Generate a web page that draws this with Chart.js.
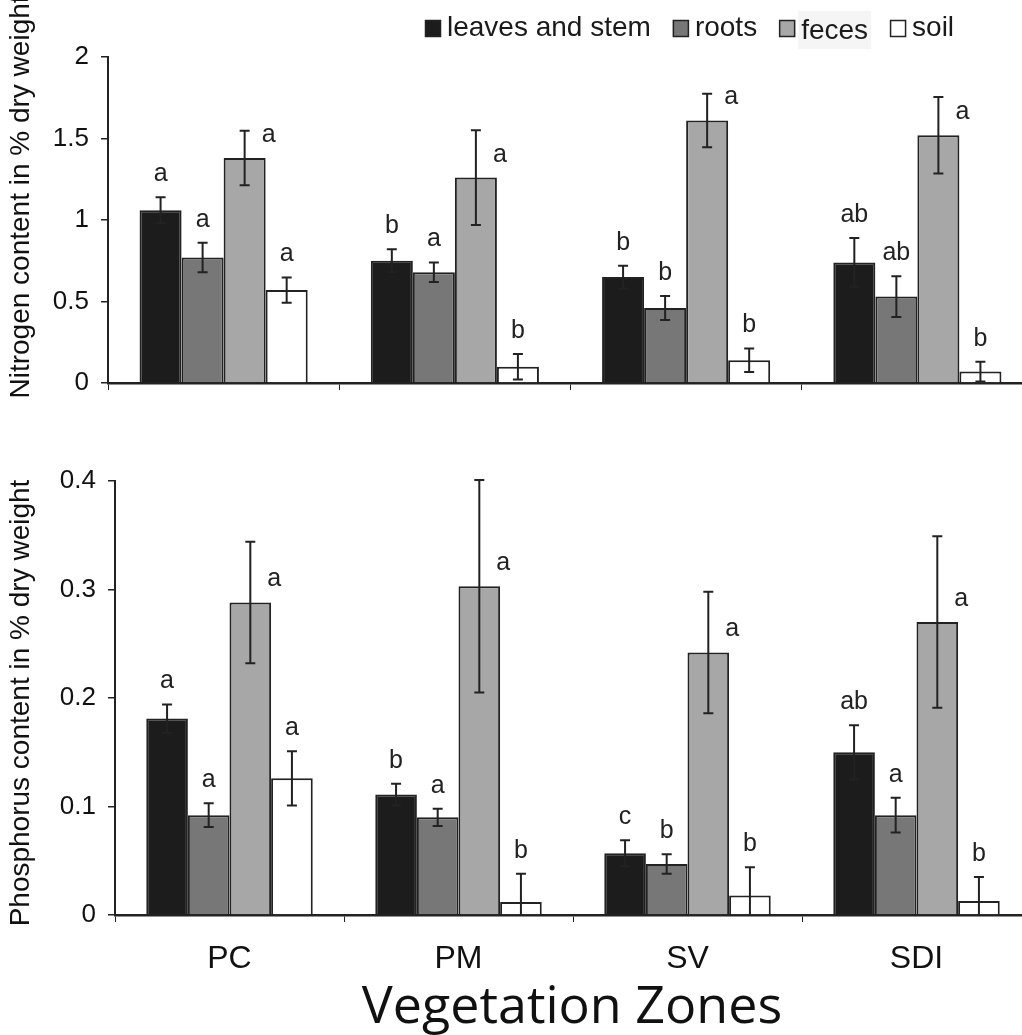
<!DOCTYPE html>
<html>
<head>
<meta charset="utf-8">
<title>Nitrogen and phosphorus content by vegetation zone</title>
<script src="https://cdn.jsdelivr.net/npm/chart.js@4.4.1/dist/chart.umd.min.js"></script>
<style>
    html, body { margin: 0; padding: 0; background: #fff; overflow: hidden; }
    #wrap { position: relative; width: 1022px; height: 1035px; overflow: hidden; }
    canvas { position: absolute; left: 0; }
    #nChart { top: 0; }
    #pChart { top: 440px; }
</style>
</head>
<body>
<div id="wrap">
    <canvas id="nChart" width="1040" height="420"></canvas>
    <canvas id="pChart" width="1040" height="595"></canvas>
</div>
<script>
// Categories and series
const zones = ['PC', 'PM', 'SV', 'SDI'];
const seriesNames = ['leaves and stem', 'roots', 'feces', 'soil'];
const seriesColors = ['#1c1c1c', '#777777', '#a7a7a7', '#ffffff'];

// Nitrogen (% dry weight): means, error bars, letters
const nLeaves = [1.06, 0.75, 0.65, 0.74];
const nRoots  = [0.77, 0.68, 0.46, 0.53];
const nFeces  = [1.38, 1.26, 1.61, 1.52];
const nSoil   = [0.57, 0.10, 0.14, 0.07];
const nLeavesErr = [0.08, 0.07, 0.07, 0.15];
const nRootsErr  = [0.09, 0.06, 0.074, 0.125];
const nFecesErr  = [0.167, 0.29, 0.164, 0.235];
const nSoilErr   = [0.077, 0.078, 0.072, 0.061];
const nLeavesSig = ['a', 'b', 'b', 'ab'];
const nRootsSig  = ['a', 'a', 'b', 'ab'];
const nFecesSig  = ['a', 'a', 'a', 'a'];
const nSoilSig   = ['a', 'b', 'b', 'b'];
const nTicks = [0, 0.5, 1, 1.5, 2];

// Phosphorus (% dry weight): means, error bars, letters
const pLeaves = [0.181, 0.111, 0.057, 0.150];
const pRoots  = [0.092, 0.090, 0.047, 0.092];
const pFeces  = [0.288, 0.303, 0.242, 0.270];
const pSoil   = [0.126, 0.012, 0.018, 0.013];
const pLeavesErr = [0.013, 0.010, 0.012, 0.025];
const pRootsErr  = [0.011, 0.008, 0.009, 0.016];
const pFecesErr  = [0.056, 0.098, 0.056, 0.079];
const pSoilErr   = [0.025, 0.026, 0.026, 0.022];
const pLeavesSig = ['a', 'b', 'c', 'ab'];
const pRootsSig  = ['a', 'a', 'b', 'a'];
const pFecesSig  = ['a', 'a', 'a', 'a'];
const pSoilSig   = ['a', 'b', 'b', 'b'];
const pTicks = [0, 0.1, 0.2, 0.3, 0.4];

const INK = '#222222';

// Error bars plus significance letters over every bar
const errorBarPlugin = {
    id: 'errorBars',
    afterDatasetsDraw(chart) {
        const ctx = chart.ctx;
        const yScale = chart.scales.y;
        ctx.save();
        ctx.strokeStyle = INK;
        ctx.lineWidth = 2;
        ctx.fillStyle = INK;
        ctx.font = '25px "Liberation Sans", Arial, sans-serif';
        ctx.textAlign = 'center';
        ctx.textBaseline = 'middle';
        chart.data.datasets.forEach((ds, i) => {
            chart.getDatasetMeta(i).data.forEach((bar, j) => {
                const v = ds.data[j];
                const e = ds.errors[j];
                const yTop = yScale.getPixelForValue(v + e);
                const clipped = v - e < 0;
                const yBot = yScale.getPixelForValue(Math.max(0, v - e));
                ctx.beginPath();
                ctx.moveTo(bar.x, yTop);
                ctx.lineTo(bar.x, yBot);
                ctx.moveTo(bar.x - 5, yTop);
                ctx.lineTo(bar.x + 5, yTop);
                if (!clipped) {
                    ctx.moveTo(bar.x - 5, yBot);
                    ctx.lineTo(bar.x + 5, yBot);
                }
                ctx.stroke();
                if (ds.letterBeside) {
                    ctx.fillText(ds.letters[j], bar.x + 24, bar.y - 23);
                } else {
                    ctx.fillText(ds.letters[j], bar.x, yTop - 23);
                }
            });
        });
        ctx.restore();
    }
};

// Rotated y title, drawn where the reference puts it
const sideTitlePlugin = {
    id: 'sideTitle',
    afterDraw(chart, args, opts) {
        const ctx = chart.ctx;
        ctx.save();
        ctx.translate(opts.x, opts.y);
        ctx.rotate(-Math.PI / 2);
        ctx.fillStyle = '#111';
        ctx.font = '28px "Liberation Sans", Arial, sans-serif';
        ctx.textAlign = 'center';
        ctx.textBaseline = 'middle';
        ctx.fillText(opts.text, 0, 0);
        ctx.restore();
    }
};

// Legend row at the top right of the nitrogen panel
const legendPlugin = {
    id: 'topLegend',
    afterDraw(chart, args, opts) {
        if (!opts.show) return;
        const ctx = chart.ctx;
        ctx.save();
        ctx.font = '28px "Liberation Sans", Arial, sans-serif';
        ctx.textBaseline = 'middle';
        let x = 425;
        const yMid = 28;
        chart.data.datasets.forEach((ds) => {
            ctx.fillStyle = ds.backgroundColor;
            ctx.fillRect(x, yMid - 8, 16, 17);
            ctx.strokeStyle = INK;
            ctx.lineWidth = 1.5;
            ctx.strokeRect(x + 0.5, yMid - 7.5, 15, 16);
            x += 22;
            const w = ctx.measureText(ds.label).width;
            if (ds.letterBeside) {
                // the reference shows a faint box behind this label
                ctx.fillStyle = '#f5f5f5';
                ctx.fillRect(x - 3, 11, w + 6, 38);
            }
            ctx.fillStyle = '#1a1a1a';
            ctx.fillText(ds.label, x, ds.letterBeside ? yMid + 3 : yMid);
            x += w + 22;
        });
        ctx.restore();
    }
};

// Axis caption under the phosphorus panel
const bottomTitlePlugin = {
    id: 'bottomTitle',
    afterDraw(chart, args, opts) {
        if (!opts.text) return;
        const ctx = chart.ctx;
        ctx.save();
        ctx.fillStyle = '#111';
        ctx.font = '52px "Open Sans", "Noto Sans", sans-serif';
        ctx.textAlign = 'center';
        ctx.textBaseline = 'alphabetic';
        ctx.fillText(opts.text, 572, 583);
        ctx.restore();
    }
};

function buildDatasets(means, errs, sigs) {
    return seriesNames.map((name, i) => ({
        label: name,
        data: means[i],
        errors: errs[i],
        letters: sigs[i],
        letterBeside: i === 2,
        backgroundColor: seriesColors[i],
        borderColor: INK,
        borderWidth: 2,
        categoryPercentage: 0.727,
        barPercentage: 1.0
    }));
}

function drawPanel(canvasId, cfg) {
    const ctx = document.getElementById(canvasId).getContext('2d');
    return new Chart(ctx, {
        type: 'bar',
        data: {
            labels: zones,
            datasets: buildDatasets(cfg.means, cfg.errs, cfg.sigs)
        },
        options: {
            responsive: false,
            animation: false,
            layout: { padding: { top: cfg.padTop, right: cfg.padRight, left: 0, bottom: 0 } },
            plugins: {
                legend: { display: false },
                tooltip: { enabled: false },
                sideTitle: { text: cfg.yTitle, x: 21, y: cfg.yTitleY },
                topLegend: { show: cfg.showLegend },
                bottomTitle: { text: cfg.xTitle }
            },
            scales: {
                x: {
                    grid: { offset: true, drawOnChartArea: false, drawTicks: true, tickLength: 7, color: INK, lineWidth: 1 },
                    border: { display: true, color: INK, width: 2.5 },
                    ticks: {
                        display: cfg.showZones,
                        color: '#111',
                        padding: 18,
                        font: { family: '"Liberation Sans", Arial, sans-serif', size: 32 }
                    },
                    afterFit: (scale) => { scale.height = cfg.xHeight; }
                },
                y: {
                    min: cfg.ticks[0],
                    max: cfg.ticks[cfg.ticks.length - 1],
                    afterBuildTicks: (scale) => { scale.ticks = cfg.ticks.map(v => ({ value: v })); },
                    grid: { drawOnChartArea: false, drawTicks: true, tickLength: 7, color: INK, lineWidth: 1.5 },
                    border: { display: true, color: INK, width: 2 },
                    ticks: {
                        color: '#111',
                        padding: 12,
                        font: { family: '"Liberation Sans", Arial, sans-serif', size: 26 },
                        callback: (v) => String(+v.toFixed(2))
                    },
                    afterFit: (scale) => { scale.width = cfg.yWidth; }
                }
            }
        },
        plugins: [errorBarPlugin, sideTitlePlugin, legendPlugin, bottomTitlePlugin]
    });
}

// Nitrogen panel
drawPanel('nChart', {
    means: [nLeaves, nRoots, nFeces, nSoil],
    errs: [nLeavesErr, nRootsErr, nFecesErr, nSoilErr],
    sigs: [nLeavesSig, nRootsSig, nFecesSig, nSoilSig],
    ticks: nTicks,
    yTitle: 'Nitrogen content in % dry weight',
    yTitleY: 197,
    xTitle: '',
    showLegend: true,
    showZones: false,
    padTop: 57,
    padRight: 7,
    xHeight: 37,
    yWidth: 108
});

// Phosphorus panel
drawPanel('pChart', {
    means: [pLeaves, pRoots, pFeces, pSoil],
    errs: [pLeavesErr, pRootsErr, pFecesErr, pSoilErr],
    sigs: [pLeavesSig, pRootsSig, pFecesSig, pSoilSig],
    ticks: pTicks,
    yTitle: 'Phosphorus content in % dry weight',
    yTitleY: 263,
    xTitle: 'Vegetation Zones',
    showLegend: false,
    showZones: true,
    padTop: 41,
    padRight: 9,
    xHeight: 120,
    yWidth: 115
});
</script>
</body>
</html>
